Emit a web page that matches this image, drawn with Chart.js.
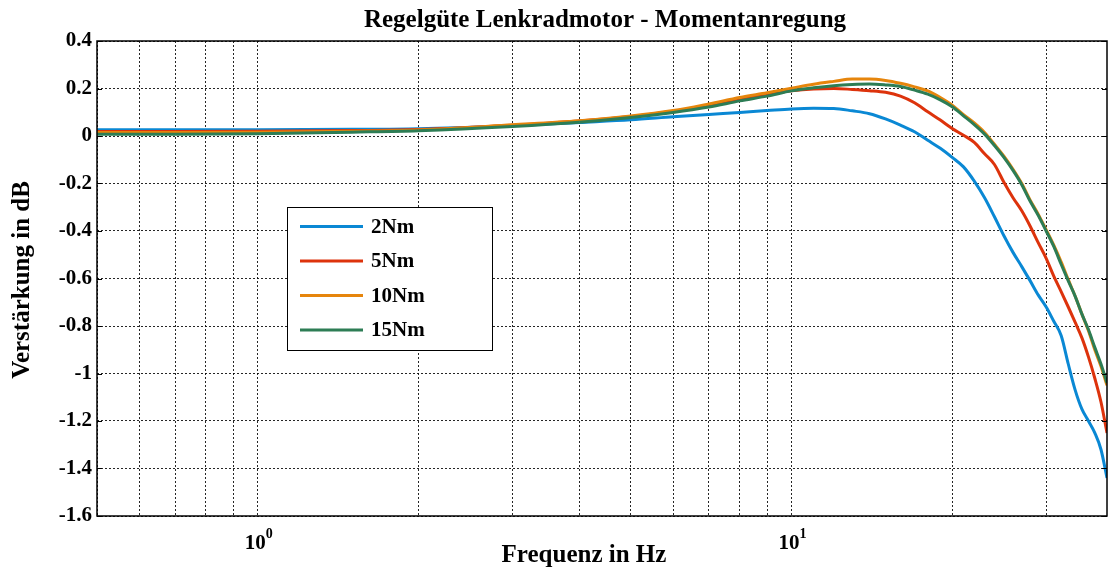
<!DOCTYPE html>
<html>
<head>
<meta charset="utf-8">
<script src="https://cdn.jsdelivr.net/npm/chart.js@4.4.0/dist/chart.umd.min.js"></script>
<style>
html,body{margin:0;padding:0;background:#fff;}
#c{display:block;}
</style>
</head>
<body>
<canvas id="c" width="1108" height="567"></canvas>
<script>
// ---- data ----
const chartTitle = "Regelgüte Lenkradmotor - Momentanregung";
const xTitle = "Frequenz in Hz";
const yTitle = "Verstärkung in dB";
const seriesNames = ["2Nm", "5Nm", "10Nm", "15Nm"];
const seriesColors = ["#0a88d4", "#dd330c", "#e6850c", "#2d7d55"];

const freq = [0.5, 0.7, 1, 1.5, 2, 3, 4, 5, 6, 7, 8, 9, 10, 11, 12, 13, 14, 15, 16, 17, 18, 19, 20,
  21, 22, 23, 24, 25, 26, 27, 28, 29, 30, 31, 32, 33, 34, 35, 36, 37, 38, 39];

const gain2Nm = [0.026, 0.026, 0.026, 0.028, 0.031, 0.043, 0.057, 0.068, 0.081, 0.091, 0.099, 0.107,
  0.114, 0.117, 0.116, 0.106, 0.094, 0.072, 0.046, 0.018, -0.018, -0.052, -0.09,
  -0.13, -0.19, -0.26, -0.34, -0.42, -0.49, -0.55, -0.61, -0.67, -0.72, -0.78, -0.84, -0.96, -1.07,
  -1.15, -1.20, -1.25, -1.32, -1.44];
const gain5Nm = [0.019, 0.019, 0.020, 0.023, 0.027, 0.045, 0.063, 0.082, 0.104, 0.127, 0.152, 0.174,
  0.190, 0.198, 0.200, 0.196, 0.191, 0.184, 0.168, 0.140, 0.102, 0.067, 0.032,
  0.003, -0.027, -0.075, -0.12, -0.195, -0.26, -0.315, -0.38, -0.45, -0.515, -0.59, -0.655, -0.72, -0.785,
  -0.85, -0.93, -1.02, -1.12, -1.25];
const gain10Nm = [0.015, 0.015, 0.016, 0.020, 0.025, 0.047, 0.064, 0.084, 0.107, 0.135, 0.162, 0.182,
  0.201, 0.218, 0.230, 0.240, 0.240, 0.234, 0.222, 0.207, 0.190, 0.162, 0.130,
  0.090, 0.055, 0.015, -0.035, -0.085, -0.14, -0.20, -0.27, -0.33, -0.395, -0.46, -0.53, -0.605, -0.675,
  -0.75, -0.82, -0.90, -0.97, -1.05];
const gain15Nm = [0.007, 0.007, 0.009, 0.016, 0.022, 0.040, 0.058, 0.078, 0.099, 0.122, 0.148, 0.168,
  0.190, 0.203, 0.212, 0.217, 0.219, 0.215, 0.208, 0.193, 0.176, 0.152, 0.123,
  0.085, 0.048, 0.008, -0.040, -0.090, -0.145, -0.205, -0.275, -0.335, -0.40, -0.465, -0.54, -0.61, -0.675,
  -0.75, -0.815, -0.89, -0.96, -1.04];

const yTickValues = [0.4, 0.2, 0, -0.2, -0.4, -0.6, -0.8, -1, -1.2, -1.4, -1.6];
const yTickLabels = ["0.4", "0.2", "0", "-0.2", "-0.4", "-0.6", "-0.8", "-1", "-1.2", "-1.4", "-1.6"];
const xMajorValues = [1, 10];
const xMajorExponents = ["0", "1"];
const xGridValues = [0.5, 0.6, 0.7, 0.8, 0.9, 1, 2, 3, 4, 5, 6, 7, 8, 9, 10, 20, 30];
const xMin = 0.5, xMax = 39, yMin = -1.6, yMax = 0.4;

// ---- build chart ----
const allGains = [gain2Nm, gain5Nm, gain10Nm, gain15Nm];
const FONT = '"Liberation Serif", "Times New Roman", serif';

const datasets = allGains.map((g, i) => ({
  label: seriesNames[i],
  data: freq.map((f, k) => ({ x: f, y: g[k] })),
  borderColor: seriesColors[i],
  backgroundColor: seriesColors[i],
  borderWidth: 3,
  pointRadius: 0,
  fill: false,
  cubicInterpolationMode: 'monotone',
  order: 3 - i
}));

const decor = {
  id: 'decor',
  afterDraw(chart) {
    const ctx = chart.ctx;
    const a = chart.chartArea;
    const xs = chart.scales.x, ys = chart.scales.y;
    ctx.save();
    // axes box
    ctx.strokeStyle = '#000';
    ctx.lineWidth = 1.5;
    ctx.strokeRect(a.left, a.top, a.right - a.left, a.bottom - a.top);
    // inward y ticks on both sides
    ctx.lineWidth = 1;
    yTickValues.forEach(v => {
      const py = Math.round(ys.getPixelForValue(v)) + 0.5;
      ctx.beginPath();
      ctx.moveTo(a.left, py); ctx.lineTo(a.left + 5, py);
      ctx.moveTo(a.right, py); ctx.lineTo(a.right - 5, py);
      ctx.stroke();
    });
    ctx.fillStyle = '#000';
    // title
    ctx.font = 'bold 25px ' + FONT;
    ctx.textAlign = 'center';
    ctx.textBaseline = 'alphabetic';
    ctx.fillText(chartTitle, 605, 27);
    // x title
    ctx.fillText(xTitle, 584, 562);
    // y title
    ctx.save();
    ctx.translate(29, 280);
    ctx.rotate(-Math.PI / 2);
    ctx.fillText(yTitle, 0, 0);
    ctx.restore();
    // x major labels 10^n
    xMajorValues.forEach((v, i) => {
      const px = xs.getPixelForValue(v);
      ctx.font = 'bold 21px ' + FONT;
      const wb = ctx.measureText('10').width;
      ctx.font = 'bold 14px ' + FONT;
      const we = ctx.measureText(xMajorExponents[i]).width;
      const start = px - (wb + we) / 2 + 1;
      ctx.textAlign = 'left';
      ctx.font = 'bold 21px ' + FONT;
      ctx.fillText('10', start, 549);
      ctx.font = 'bold 14px ' + FONT;
      ctx.fillText(xMajorExponents[i], start + wb, 538);
    });
    // legend
    const lx = 287.5, ly = 207.5, lw = 205, lh = 143;
    ctx.fillStyle = '#fff';
    ctx.fillRect(lx, ly, lw, lh);
    ctx.strokeStyle = '#000';
    ctx.lineWidth = 1;
    ctx.strokeRect(lx, ly, lw, lh);
    const rowsY = [226.5, 261, 295.5, 330];
    ctx.font = 'bold 21px ' + FONT;
    ctx.textAlign = 'left';
    ctx.textBaseline = 'middle';
    seriesNames.forEach((n, i) => {
      ctx.strokeStyle = seriesColors[i];
      ctx.lineWidth = 3;
      ctx.beginPath();
      ctx.moveTo(300, rowsY[i]); ctx.lineTo(363, rowsY[i]);
      ctx.stroke();
      ctx.fillStyle = '#000';
      ctx.fillText(n, 371, rowsY[i] + 1);
    });
    ctx.restore();
  }
};

new Chart(document.getElementById('c'), {
  type: 'line',
  data: { datasets },
  options: {
    responsive: false,
    animation: false,
    devicePixelRatio: 1,
    layout: { padding: { top: 41, right: 1, left: 0, bottom: 0 } },
    plugins: { legend: { display: false }, title: { display: false }, tooltip: { enabled: false } },
    scales: {
      x: {
        type: 'logarithmic',
        min: xMin, max: xMax,
        afterBuildTicks(scale) { scale.ticks = xGridValues.map(v => ({ value: v })); },
        afterFit(scale) { scale.height = 51; },
        ticks: { display: false },
        border: { display: false, dash: [2, 2] },
        grid: { color: 'rgba(0,0,0,0.85)', lineWidth: 1, drawTicks: false }
      },
      y: {
        type: 'linear',
        min: yMin, max: yMax,
        afterBuildTicks(scale) { scale.ticks = yTickValues.map(v => ({ value: v })); },
        afterFit(scale) { scale.width = 97; },
        ticks: {
          padding: 5,
          color: '#000',
          font: { family: FONT, size: 21, weight: 'bold' },
          callback: (v) => { const i = yTickValues.indexOf(v); return i >= 0 ? yTickLabels[i] : ''; }
        },
        border: { display: false, dash: [2, 2] },
        grid: { color: 'rgba(0,0,0,0.85)', lineWidth: 1, drawTicks: false }
      }
    }
  },
  plugins: [decor]
});
</script>
</body>
</html>
